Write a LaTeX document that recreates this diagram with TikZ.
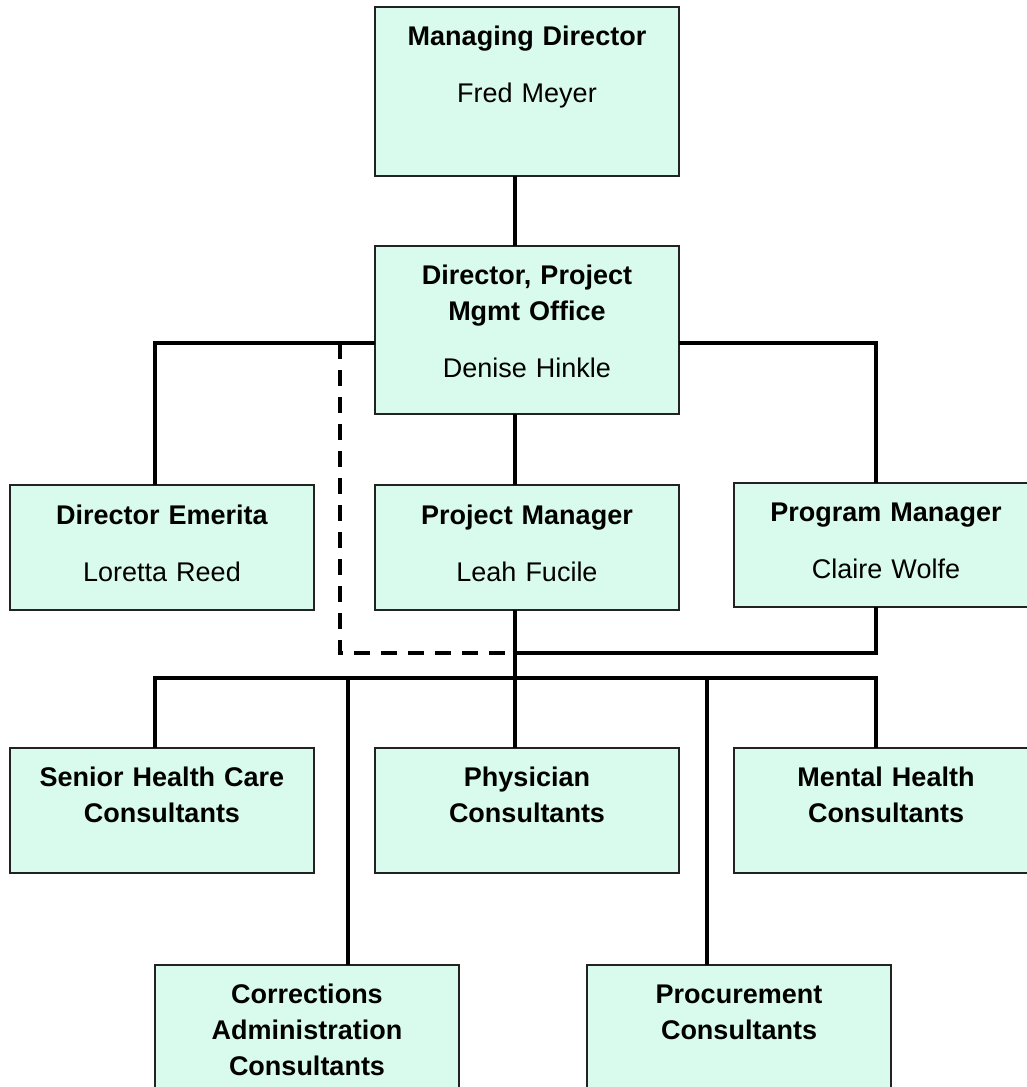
\documentclass[tikz,border=0pt]{standalone}
\usepackage{fontspec}
\setmainfont{Liberation Sans}
\usepackage{xcolor}
\usepackage{tikz}
\usetikzlibrary{positioning,calc}
\definecolor{mintbox}{HTML}{D9FBEE}
\definecolor{ink}{HTML}{222222}
\tikzset{
  post/.style={
    rectangle,
    draw=ink,
    line width=1.5pt,
    fill=mintbox,
    minimum width=304pt,
    anchor=north west,
    inner sep=0pt,
    outer sep=0pt
  },
  posttext/.style={
    anchor=base,
    align=center,
    text width=296pt,
    inner sep=0pt,
    text=black
  },
  link/.style={
    draw=black,
    line width=4pt
  },
  dashlink/.style={
    link,
    dash pattern=on 16pt off 11pt
  }
}

\begin{document}
\begin{tikzpicture}[
  x=1pt, y=-1pt,
  font=\fontsize{27pt}{36pt}\selectfont
]

\fill[white] (0,0) rectangle (1027,1087);
\clip (0,0) rectangle (1027,1087);

% Top of the chart.
\node[post, minimum height=169pt] (md) at (375,7) {};
\node[posttext] (md-t) at ([yshift=-38pt]md.north)
  {\textbf{Managing Director}\\[21pt]Fred Meyer};

\node[post, minimum height=168pt] (pmo) at (375,246) {};
\node[posttext] (pmo-t) at ([yshift=-38pt]pmo.north)
  {\textbf{Director, Project}\\\textbf{Mgmt Office}\\[21pt]Denise Hinkle};

% Second row: direct reports.
\node[post, minimum height=125pt] (emerita) at (10,485) {};
\node[posttext] (emerita-t) at ([yshift=-39pt]emerita.north)
  {\textbf{Director Emerita}\\[21pt]Loretta Reed};

\node[post, minimum height=125pt] (projmgr) at (375,485) {};
\node[posttext] (projmgr-t) at ([yshift=-39pt]projmgr.north)
  {\textbf{Project Manager}\\[21pt]Leah Fucile};

\node[post, minimum height=124pt] (progmgr) at (734,483) {};
\node[posttext] (progmgr-t) at ([yshift=-38pt]progmgr.north)
  {\textbf{Program Manager}\\[21pt]Claire Wolfe};

% Third row: consultant groups.
\node[post, minimum height=125pt] (seniorhc) at (10,748) {};
\node[posttext] (seniorhc-t) at ([yshift=-38pt]seniorhc.north)
  {\textbf{Senior Health Care}\\\textbf{Consultants}};

\node[post, minimum height=125pt] (physician) at (375,748) {};
\node[posttext] (physician-t) at ([yshift=-38pt]physician.north)
  {\textbf{Physician}\\\textbf{Consultants}};

\node[post, minimum height=125pt] (mentalh) at (734,748) {};
\node[posttext] (mentalh-t) at ([yshift=-38pt]mentalh.north)
  {\textbf{Mental Health}\\\textbf{Consultants}};

% Bottom row.
\node[post, minimum height=135pt] (corrections) at (155,965) {};
\node[posttext] (corrections-t) at ([yshift=-38pt]corrections.north)
  {\textbf{Corrections}\\\textbf{Administration}\\\textbf{Consultants}};

\node[post, minimum height=135pt] (procure) at (587,965) {};
\node[posttext] (procure-t) at ([yshift=-38pt]procure.north)
  {\textbf{Procurement}\\\textbf{Consultants}};

% Line positions.
\coordinate (spine) at (515,0);
\coordinate (lx) at (155,343);
\coordinate (rx) at (876,343);
\coordinate (dashx) at (340,343);
\coordinate (joinrow) at (0,653);
\coordinate (busrow) at (0,678);
\coordinate (dropC) at (348,0);
\coordinate (dropP) at (707,0);

% Reporting lines.
\draw[link] (md.south -| spine) -- (pmo.north -| spine);
\draw[link] (pmo.west |- lx) -- (lx) -- (lx |- emerita.north);
\draw[link] (pmo.east |- rx) -- (rx) -- (rx |- progmgr.north);
\draw[link] (pmo.south -| spine) -- (projmgr.north -| spine);
\draw[link] (projmgr.south -| spine) -- (busrow -| spine);
\draw[link] (progmgr.south -| rx) -- (joinrow -| rx) -- (joinrow -| spine);
\draw[dashlink] (dashx) -- (joinrow -| dashx) -- (joinrow -| spine);

\draw[link] (lx |- seniorhc.north) -- (busrow -| lx) -- (busrow -| rx)
  -- (rx |- mentalh.north);
\draw[link] (busrow -| spine) -- (spine |- physician.north);
\draw[link] (busrow -| dropC) -- (dropC |- corrections.north);
\draw[link] (busrow -| dropP) -- (dropP |- procure.north);

\end{tikzpicture}
\end{document}
